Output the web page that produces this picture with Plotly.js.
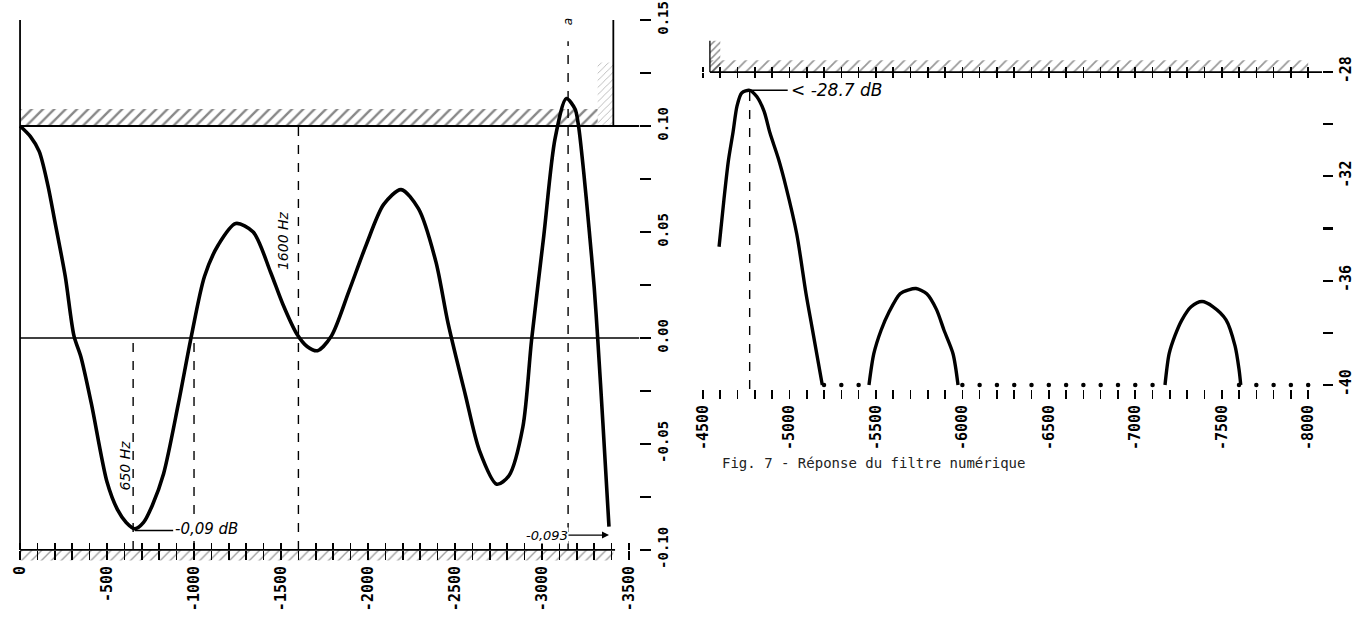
<!DOCTYPE html>
<html><head><meta charset="utf-8">
<script src="https://cdn.plot.ly/plotly-3.0.1.min.js"></script>
<style>html,body{margin:0;padding:0;background:#fff}#chart{width:1366px;height:619px}</style>
</head><body><div id="chart"></div>
<script>
// ---------- Left panel: pass band ripple (dB) vs frequency (Hz) ----------
const passFreq = [0, 60, 110, 160, 200, 260, 310, 350, 410, 500, 560, 610, 660, 710, 760, 825, 910, 985,
  1060, 1140, 1240, 1340, 1440, 1510, 1590, 1650, 1710, 1790, 1890, 1990, 2090, 2190, 2290, 2390, 2460,
  2560, 2640, 2740, 2810, 2890, 2940, 3010, 3075, 3140, 3190, 3210, 3240, 3270, 3300, 3320, 3350, 3385];
const passGain = [0.100, 0.095, 0.088, 0.072, 0.055, 0.029, 0.001, -0.009, -0.031, -0.068, -0.081, -0.087,
  -0.090, -0.087, -0.079, -0.064, -0.031, 0.001, 0.029, 0.044, 0.054, 0.050, 0.031, 0.016, 0.002, -0.004,
  -0.006, 0.001, 0.022, 0.044, 0.063, 0.070, 0.061, 0.036, 0.007, -0.027, -0.053, -0.069, -0.065, -0.042,
  -0.001, 0.048, 0.094, 0.113, 0.108, 0.100, 0.078, 0.052, 0.024, 0.000, -0.040, -0.089];
const passTickVals = [0, 500, 1000, 1500, 2000, 2500, 3000, 3500];
const passTickText = ['0', '-500', '-1000', '-1500', '-2000', '-2500', '-3000', '-3500'];
const passGainTickVals = [-0.10, -0.05, 0.00, 0.05, 0.10, 0.15];
const passGainTickText = ['-0.10', '-0.05', '0.00', '0.05', '0.10', '0.15'];
const passLimit = 0.10;          // template upper limit
const passFloor = -0.10;         // bottom of scale
const passTop = 0.15;
const passEdge = 3410;           // template edge (Hz)
const passHatchEnd = 3320;
const passMarkerFreq = [650, 1000, 1600, 3150];
const passMarkerTop = [0.00, 0.00, 0.10, 0.14];
const passMinFreq = 660, passMinGain = -0.09;
const passEndGain = -0.093;

// ---------- Right panel: stop band attenuation (dB) vs frequency (Hz) ----------
const lobe1Freq = [4593, 4621, 4647, 4674, 4697, 4724, 4770, 4812, 4853, 4888, 4935, 4980, 5042, 5096, 5131, 5190];
const lobe1Db = [-34.7, -32.9, -31.4, -30.3, -29.3, -28.8, -28.7, -28.95, -29.5, -30.35, -31.3, -32.4, -34.2, -36.5, -37.8, -40.0];
const lobe2Freq = [5460, 5488, 5530, 5576, 5640, 5690, 5732, 5794, 5850, 5894, 5946, 5975];
const lobe2Db = [-40.0, -38.8, -37.9, -37.2, -36.5, -36.35, -36.3, -36.5, -37.1, -37.9, -38.8, -40.0];
const lobe3Freq = [7172, 7196, 7230, 7270, 7323, 7386, 7450, 7525, 7577, 7600, 7610];
const lobe3Db = [-40.0, -38.8, -38.1, -37.5, -37.0, -36.8, -37.0, -37.5, -38.5, -39.4, -40.0];
const floorDotFreq = [5200, 5300, 5400, 6000, 6100, 6200, 6300, 6400, 6500, 6600, 6700, 6800, 6900, 7000, 7100,
  7600, 7700, 7800, 7900, 8000];
const stopTickVals = [4500, 5000, 5500, 6000, 6500, 7000, 7500, 8000];
const stopTickText = ['-4500', '-5000', '-5500', '-6000', '-6500', '-7000', '-7500', '-8000'];
const stopDbTickVals = [-40, -36, -32, -28];
const stopDbTickText = ['-40', '-36', '-32', '-28'];
const stopLimit = -28;
const stopFloor = -40;
const stopStart = 4540;
const stopPeakFreq = 4770, stopPeakDb = -28.7;

// ---------- layout helpers ----------
const LX = [-10, 3560], LY = [-0.106, 0.155];
const RX = [4450, 8080], RY = [-40.15, -26.5];
const mono = 'DejaVu Sans Mono';
const hand = 'DejaVu Sans';
const K = '#000';

function hatch(xs, ys, xa, ya, size, sol, col) {
  return {x: xs, y: ys, xaxis: xa, yaxis: ya, mode: 'lines', fill: 'toself',
    fillcolor: 'rgba(255,255,255,0)', line: {width: 0},
    fillpattern: {shape: '/', size: size, solidity: sol, fgcolor: col, fillmode: 'overlay'},
    hoverinfo: 'skip', showlegend: false};
}

const traces = [
  hatch([0, passHatchEnd, passHatchEnd, 0], [passLimit, passLimit, passLimit + 0.008, passLimit + 0.008], 'x', 'y', 8, 0.3, '#111'),
  hatch([passEdge - 90, passEdge, passEdge, passEdge - 90], [passLimit, passLimit, passLimit + 0.03, passLimit + 0.03], 'x', 'y', 5, 0.15, '#555'),
  hatch([0, passEdge, passEdge, 0], [passFloor, passFloor, passFloor - 0.005, passFloor - 0.005], 'x', 'y', 7, 0.2, '#444'),
  {x: passFreq, y: passGain, xaxis: 'x', yaxis: 'y', mode: 'lines', line: {color: K, width: 3.6, shape: 'spline', smoothing: 0.8}, showlegend: false},
  hatch([stopStart, 8000, 8000, stopStart], [stopLimit, stopLimit, stopLimit + 0.45, stopLimit + 0.45], 'x2', 'y2', 8, 0.22, '#333'),
  hatch([stopStart, stopStart + 60, stopStart + 60, stopStart], [stopLimit, stopLimit, stopLimit + 1.2, stopLimit + 1.2], 'x2', 'y2', 5, 0.3, '#222'),
  {x: lobe1Freq, y: lobe1Db, xaxis: 'x2', yaxis: 'y2', mode: 'lines', line: {color: K, width: 3.4, shape: 'spline', smoothing: 0.8}, showlegend: false},
  {x: lobe2Freq, y: lobe2Db, xaxis: 'x2', yaxis: 'y2', mode: 'lines', line: {color: K, width: 3.4, shape: 'spline', smoothing: 0.8}, showlegend: false},
  {x: lobe3Freq, y: lobe3Db, xaxis: 'x2', yaxis: 'y2', mode: 'lines', line: {color: K, width: 3.4, shape: 'spline', smoothing: 0.8}, showlegend: false},
  {x: floorDotFreq, y: floorDotFreq.map(() => stopFloor), xaxis: 'x2', yaxis: 'y2', mode: 'markers', marker: {color: K, size: 4.5}, showlegend: false},
  {x: [], y: [], xaxis: 'x3', yaxis: 'y', showlegend: false},
  {x: [], y: [], xaxis: 'x4', yaxis: 'y2', showlegend: false},
  {x: [], y: [], xaxis: 'x5', yaxis: 'y2', showlegend: false}
];

function line(xr, yr, x0, y0, x1, y1, w, dash) {
  return {type: 'line', xref: xr, yref: yr, x0: x0, y0: y0, x1: x1, y1: y1, line: {color: K, width: w, dash: dash || 'solid'}};
}
const shapes = [
  line('x', 'y', 0, passFloor, 0, passTop, 1.8),
  line('x', 'y', 0, passLimit, LX[1], passLimit, 1.8),
  line('x', 'y', 0, 0, LX[1], 0, 1.5),
  line('x', 'y', passEdge, passLimit, passEdge, passTop, 1.8),
  line('x', 'y', 0, passFloor, passEdge + 10, passFloor, 1.8),
  line('x', 'y', passMinFreq, passMinGain - 0.0008, 880, passMinGain - 0.0008, 1.5),
  line('x2', 'y2', stopStart, stopLimit, RX[1], stopLimit, 1.8),
  line('x2', 'y2', stopStart, stopLimit, stopStart, stopLimit + 1.2, 1.3),
  line('x2', 'y2', stopPeakFreq, RY[0], stopPeakFreq, stopPeakDb, 1.4, 'dash'),
  line('x2', 'y2', stopPeakFreq, stopPeakDb, 4990, stopPeakDb, 1.6)
];
passMarkerFreq.forEach((f, i) => shapes.push(line('x', 'y', f, passFloor, f, passMarkerTop[i], 1.4, 'dash')));

const annotations = [
  {x: 605, y: -0.06, xref: 'x', yref: 'y', text: '<i>650 Hz</i>', textangle: -90, showarrow: false, font: {family: hand, size: 14, color: K}},
  {x: 1515, y: 0.046, xref: 'x', yref: 'y', text: '<i>1600 Hz</i>', textangle: -90, showarrow: false, font: {family: hand, size: 14, color: K}},
  {x: 885, y: passMinGain, xref: 'x', yref: 'y', xanchor: 'left', text: '<i>-0,09 dB</i>', showarrow: false, bgcolor: '#fff', borderpad: 0, font: {family: hand, size: 15, color: K}},
  {x: 3385, y: passEndGain, xref: 'x', yref: 'y', ax: -62, ay: 0, text: '<i>-0,093</i>', showarrow: true, arrowhead: 2, arrowwidth: 1.4, arrowcolor: K, bgcolor: '#fff', borderpad: 0, font: {family: hand, size: 13, color: K}},
  {x: 3150, y: 0.149, xref: 'x', yref: 'y', text: '<i>a</i>', textangle: -90, showarrow: false, font: {family: hand, size: 12, color: K}},
  {x: 4995, y: stopPeakDb, xref: 'x2', yref: 'y2', xanchor: 'left', text: '<i>&lt; -28.7 dB</i>', showarrow: false, font: {family: hand, size: 17, color: K}},
  {x: 0.527, y: 0.252, xref: 'paper', yref: 'paper', xanchor: 'left', yanchor: 'middle', text: 'Fig. 7 - Réponse du filtre numérique', showarrow: false, font: {family: mono, size: 14, color: '#222'}}
];

const tickF = (s) => ({family: mono, size: s, color: K, weight: 'bold'});
const layout = {
  width: 1366, height: 619, margin: {l: 0, r: 0, t: 0, b: 0},
  paper_bgcolor: '#fff', plot_bgcolor: 'rgba(0,0,0,0)', showlegend: false,
  xaxis: {domain: [0.0134, 0.4681], range: LX, anchor: 'free', position: 0.1115,
    tickmode: 'array', tickvals: passTickVals, ticktext: passTickText, tickangle: -90,
    ticks: 'outside', ticklen: 9, tickwidth: 1.6, tickcolor: K,
    minor: {tickmode: 'linear', tick0: 0, dtick: 100, ticks: 'outside', ticklen: 9, tickwidth: 1.6, tickcolor: K, showgrid: false},
    showgrid: false, zeroline: false, showline: false, tickfont: tickF(15)},
  xaxis3: {overlaying: 'x', range: LX, anchor: 'free', position: 0.1115, side: 'top', showticklabels: false,
    tickmode: 'linear', tick0: 0, dtick: 100, ticks: 'outside', ticklen: 7, tickwidth: 1.6, tickcolor: K,
    showgrid: false, zeroline: false, showline: false},
  yaxis: {domain: [0.0910, 0.9848], range: LY, anchor: 'x', side: 'right',
    tickmode: 'array', tickvals: passGainTickVals, ticktext: passGainTickText, tickangle: -90,
    ticks: 'outside', ticklen: 11, tickwidth: 2.2, tickcolor: K,
    minor: {tickmode: 'linear', tick0: 0, dtick: 0.025, ticks: 'outside', ticklen: 11, tickwidth: 2.2, tickcolor: K, showgrid: false},
    showgrid: false, zeroline: false, showline: false, tickfont: tickF(14)},
  xaxis2: {domain: [0.5083, 0.9678], range: RX, anchor: 'y2',
    tickmode: 'array', tickvals: stopTickVals, ticktext: stopTickText, tickangle: -90,
    ticks: 'outside', ticklen: 9, tickwidth: 1.6, tickcolor: K,
    minor: {tickmode: 'linear', tick0: 0, dtick: 100, ticks: 'outside', ticklen: 9, tickwidth: 1.6, tickcolor: K, showgrid: false},
    showgrid: false, zeroline: false, showline: false, tickfont: tickF(15)},
  xaxis4: {overlaying: 'x2', range: RX, anchor: 'free', position: 0.8837, side: 'top', showticklabels: false,
    tickmode: 'linear', tick0: 0, dtick: 100, ticks: 'outside', ticklen: 5, tickwidth: 1.6, tickcolor: K,
    showgrid: false, zeroline: false, showline: false},
  xaxis5: {overlaying: 'x2', range: RX, anchor: 'free', position: 0.8837, side: 'bottom', showticklabels: false,
    tickmode: 'linear', tick0: 0, dtick: 100, ticks: 'outside', ticklen: 5, tickwidth: 1.6, tickcolor: K,
    showgrid: false, zeroline: false, showline: false},
  yaxis2: {domain: [0.3717, 0.9468], range: RY, anchor: 'x2', side: 'right',
    tickmode: 'array', tickvals: stopDbTickVals, ticktext: stopDbTickText, tickangle: -90,
    ticks: 'outside', ticklen: 10, tickwidth: 2.2, tickcolor: K,
    minor: {tickmode: 'linear', tick0: 0, dtick: 2, ticks: 'outside', ticklen: 10, tickwidth: 2.2, tickcolor: K, showgrid: false},
    showgrid: false, zeroline: false, showline: false, tickfont: tickF(15)},
  shapes: shapes,
  annotations: annotations
};

Plotly.newPlot('chart', traces, layout, {staticPlot: true, displayModeBar: false});
</script>
</body></html>
